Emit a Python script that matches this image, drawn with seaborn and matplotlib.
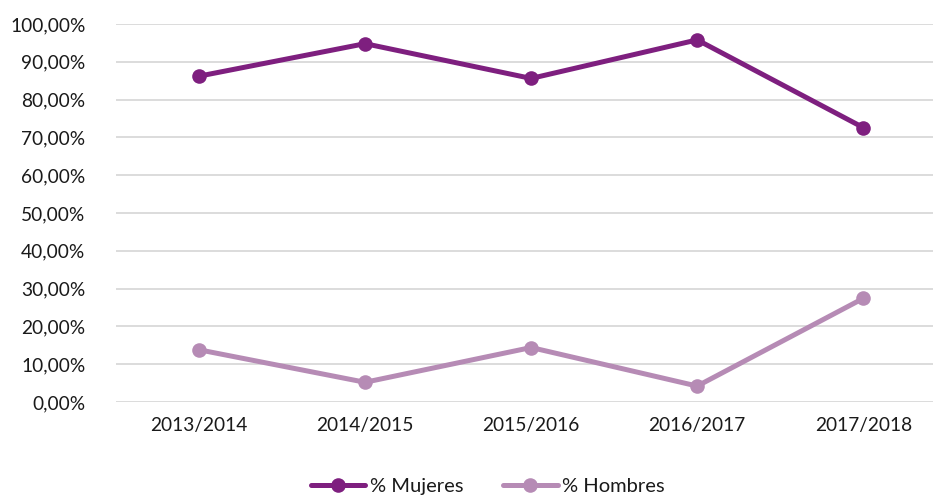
import matplotlib
matplotlib.use("Agg")
import matplotlib.pyplot as plt
import seaborn as sns
import pandas as pd
from matplotlib.ticker import FuncFormatter

cursos = ["2013/2014", "2014/2015", "2015/2016", "2016/2017", "2017/2018"]
mujeres = [86.2, 94.8, 85.6, 95.8, 72.6]
hombres = [13.8, 5.2, 14.4, 4.2, 27.4]
series = ["% Mujeres", "% Hombres"]
colores = ["#7E1F7F", "#B68BB5"]

df = pd.DataFrame({
    "curso": cursos * 2,
    "x": list(range(len(cursos))) * 2,
    "valor": [v / 100 for v in mujeres + hombres],
    "serie": [series[0]] * len(cursos) + [series[1]] * len(cursos),
})

sns.set_theme(style="white")
plt.rcParams["font.family"] = ["Lato", "DejaVu Sans"]

fig = plt.figure(figsize=(9.33, 4.95), dpi=100)
ax = fig.add_axes([0.1243, 0.188, 0.8757, 0.7635])

sns.lineplot(data=df, x="x", y="valor", hue="serie", hue_order=series,
             palette=colores, marker="o", markersize=10.5, markeredgewidth=0,
             linewidth=3.6, ax=ax, legend=True)

ax.set_ylim(0, 1.0)
ax.set_xlim(-0.5, 4.42)
ax.set_yticks([i / 10 for i in range(11)])
ax.yaxis.set_major_formatter(FuncFormatter(lambda v, p: f"{v*100:.2f}%".replace(".", ",")))
ax.set_xticks(range(len(cursos)))
ax.set_xticklabels(cursos)
ax.tick_params(axis="both", labelsize=13.8, colors="#1a1a1a", length=0)
ax.tick_params(axis="x", pad=11)
ax.tick_params(axis="y", pad=22)
ax.grid(axis="y", color="#D9D9D9", linewidth=1.3)
ax.set_axisbelow(True)
for s in ax.spines.values():
    s.set_visible(False)
ax.set_xlabel("")
ax.set_ylabel("")

h, l = ax.get_legend_handles_labels()
leg = ax.legend(h, l, loc="center", bbox_to_anchor=(0.455, -0.2225), ncol=2, frameon=False,
                fontsize=14.5, handlelength=2.7, handletextpad=0.2, columnspacing=2.0)
for t in leg.get_texts():
    t.set_color("#1a1a1a")

fig.savefig("out.png", dpi=100)
